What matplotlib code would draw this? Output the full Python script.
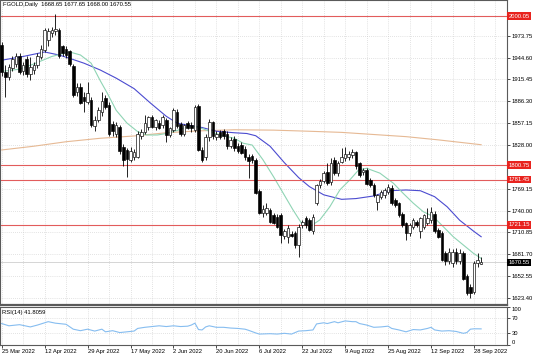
import numpy as np
import matplotlib
matplotlib.use('Agg')
import matplotlib.pyplot as plt
import matplotlib.transforms as mtransforms

plt.rcParams['font.family'] = ['Liberation Sans', 'DejaVu Sans']

# ==========================================
# Data (daily candles, 25 Mar - 30 Sep 2022)
# ==========================================
symbol = 'FGOLD,Daily'

opens = [1962, 1925, 1918, 1930, 1936, 1946, 1926, 1942, 1922, 1928,
         1935, 1945, 1955, 1968, 1978, 1980, 1982, 1960, 1956, 1953,
         1933, 1898, 1905, 1892, 1885, 1888, 1853, 1861, 1872, 1891,
         1881, 1856, 1843, 1852, 1825, 1821, 1808, 1812, 1812, 1840,
         1845, 1852, 1865, 1852, 1857, 1855, 1861, 1841, 1848, 1872,
         1856, 1843, 1857, 1855, 1848, 1880, 1821, 1812, 1838, 1858,
         1838, 1845, 1846, 1843, 1826, 1836, 1826, 1828, 1822, 1812,
         1813, 1807, 1766, 1737, 1737, 1741, 1734, 1732, 1734, 1706,
         1705, 1709, 1710, 1694, 1720, 1730, 1727, 1712, 1750, 1774,
         1780, 1792, 1778, 1808, 1790, 1805, 1810, 1812, 1814, 1818,
         1803, 1792, 1794, 1781, 1774, 1752, 1758, 1761, 1765, 1770,
         1754, 1750, 1736, 1723, 1710, 1718, 1725, 1712, 1718, 1723,
         1727, 1736, 1714, 1710, 1683, 1672, 1670, 1684, 1672, 1683,
         1652, 1638, 1631, 1670, 1668.65]
highs = [1966, 1934, 1936, 1946, 1950, 1950, 1938, 1946, 1945, 1938,
         1950, 1961, 1984, 1984, 1985, 2003, 1984, 1962, 1960, 1955,
         1936, 1910, 1910, 1898, 1912, 1892, 1866, 1878, 1899, 1894,
         1885, 1860, 1858, 1855, 1829, 1824, 1825, 1822, 1846, 1849,
         1868, 1866, 1868, 1862, 1861, 1868, 1864, 1852, 1877, 1876,
         1859, 1856, 1860, 1858, 1881, 1882, 1825, 1842, 1862, 1860,
         1846, 1848, 1849, 1846, 1838, 1840, 1830, 1832, 1826, 1816,
         1816, 1810, 1769, 1747, 1750, 1744, 1737, 1735, 1737, 1715,
         1721, 1712, 1713, 1722, 1728, 1733, 1730, 1735, 1776, 1782,
         1793, 1803, 1810, 1811, 1806, 1823, 1825, 1820, 1822, 1820,
         1805, 1797, 1797, 1784, 1777, 1762, 1768, 1770, 1776, 1774,
         1757, 1752, 1738, 1725, 1723, 1730, 1728, 1731, 1736, 1743,
         1745, 1739, 1717, 1712, 1686, 1690, 1688, 1690, 1688, 1686,
         1655, 1642, 1672, 1683, 1677.65]
lows = [1920, 1892, 1915, 1926, 1932, 1922, 1921, 1918, 1915, 1922,
        1930, 1942, 1952, 1960, 1972, 1975, 1944, 1947, 1944, 1933,
        1892, 1893, 1882, 1872, 1883, 1852, 1846, 1858, 1866, 1876,
        1840, 1840, 1838, 1816, 1800, 1785, 1805, 1808, 1810, 1835,
        1842, 1848, 1850, 1848, 1849, 1851, 1832, 1838, 1845, 1850,
        1840, 1839, 1849, 1845, 1845, 1819, 1805, 1808, 1833, 1836,
        1834, 1836, 1836, 1822, 1823, 1820, 1817, 1815, 1808, 1784,
        1803, 1762, 1735, 1731, 1734, 1723, 1722, 1716, 1696, 1702,
        1697, 1704, 1690, 1678, 1716, 1716, 1712, 1708, 1747, 1770,
        1777, 1774, 1774, 1787, 1786, 1803, 1806, 1808, 1810, 1796,
        1785, 1788, 1774, 1771, 1758, 1741, 1755, 1757, 1762, 1747,
        1745, 1732, 1718, 1701, 1706, 1715, 1718, 1703, 1715, 1720,
        1724, 1710, 1703, 1672, 1667, 1668, 1665, 1668, 1668, 1647,
        1627, 1623, 1628, 1664, 1668.00]
closes = [1925, 1918, 1932, 1942, 1946, 1925, 1934, 1922, 1932, 1935,
          1946, 1956, 1981, 1980, 1981, 1983, 1947, 1951, 1948, 1936,
          1895, 1905, 1884, 1886, 1897, 1855, 1861, 1875, 1886, 1879,
          1843, 1847, 1855, 1819, 1808, 1809, 1820, 1818, 1843, 1845,
          1857, 1865, 1852, 1861, 1851, 1865, 1841, 1850, 1874, 1853,
          1843, 1854, 1851, 1850, 1878, 1821, 1808, 1838, 1858, 1840,
          1843, 1838, 1840, 1826, 1834, 1823, 1819, 1817, 1811, 1806,
          1808, 1764, 1737, 1742, 1743, 1725, 1724, 1718, 1707, 1713,
          1716, 1706, 1694, 1718, 1725, 1721, 1714, 1731, 1774, 1779,
          1790, 1777, 1803, 1790, 1804, 1812, 1816, 1815, 1818, 1799,
          1788, 1794, 1776, 1774, 1761, 1761, 1765, 1767, 1772, 1750,
          1747, 1734, 1721, 1710, 1721, 1727, 1721, 1730, 1734, 1730,
          1738, 1712, 1705, 1674, 1672, 1685, 1685, 1672, 1683, 1649,
          1630, 1630, 1670, 1674, 1670.55]

# moving averages (bar index, value)
ma_fast_x = [0, 5, 9, 14, 19, 22, 25, 27.5, 29.5, 32, 35, 38, 40.5, 43.5, 46, 49,
             52, 54.5, 57, 61, 65, 67.5, 70, 73, 76, 78.7, 81.4, 83.8, 86.1, 88.9,
             91.7, 94.5, 97.3, 99.7, 102, 105.7, 109.5, 112.2, 115, 117.8, 120.6,
             123.4, 126.2, 129, 131.8, 134]
ma_fast_y = [1926, 1929, 1936, 1946, 1952, 1948, 1937, 1914, 1897, 1874, 1857, 1845.5,
             1841, 1841, 1843, 1847, 1852, 1852, 1848, 1841, 1836.6, 1830, 1827.6,
             1808, 1785, 1763, 1741, 1723, 1718.5, 1727.4, 1745, 1767.5, 1781, 1794,
             1796.5, 1790, 1776.4, 1763, 1750, 1738.5, 1732, 1718.5, 1705, 1694,
             1683, 1676]
ma_mid_x = [0, 6, 12, 16, 19, 23, 27.5, 32, 37, 41.5, 46, 49, 52, 56, 60, 65, 68.5,
            71, 75, 79, 83, 86, 90, 95, 99, 104, 108.5, 113, 117, 121, 124.5, 128,
            132, 134]
ma_mid_y = [1941, 1946, 1952, 1948, 1943.5, 1937, 1928, 1917, 1903, 1884, 1866,
            1857, 1854, 1851, 1846, 1844, 1843, 1840, 1826, 1804, 1784, 1772, 1761,
            1755, 1756, 1759.5, 1766.5, 1767.5, 1766.5, 1758.5, 1745, 1727, 1712,
            1705]
ma_slow_x = [0, 9, 18, 27.5, 37, 46, 55, 65, 76, 86, 95, 113, 122, 134]
ma_slow_y = [1821, 1826, 1832, 1836.6, 1839.7, 1844, 1846.5, 1848, 1847.5, 1846,
             1844.5, 1838.8, 1834.5, 1828]

# RSI(14) (bar index, value)
rsi_x = [0, 2, 5, 8, 10, 13, 15, 18, 20, 22, 24, 26, 28, 29, 31, 33, 35, 37, 38,
         40, 42, 44, 46, 48, 50, 52, 53, 54, 55, 56, 57, 58, 60, 62, 64, 66, 68,
         69, 71, 72, 75, 77, 79, 81, 83, 85, 87, 88, 90, 91, 93, 94, 96, 98, 99,
         100, 102, 104, 106, 108, 109, 111, 113, 115, 117, 119, 120, 121, 123,
         125, 127, 129, 130, 131, 132, 133, 134]
rsi_y = [56, 50, 53, 47, 52, 61, 57, 54, 41, 37, 41, 36, 41, 34, 37, 32, 34, 36,
         43, 46, 48, 50, 48, 50, 48, 49, 52, 57, 40, 39, 47, 50, 46, 46, 44, 43,
         41, 38, 31, 28, 29, 28, 30, 28, 36, 37, 39, 55, 58, 56, 61, 58, 63, 61,
         61, 56, 52, 46, 47, 49, 43, 39, 34, 40, 39, 43, 46, 39, 36, 37, 35, 30,
         32, 41, 42, 42, 41.8]
rsi_last = 41.8059

level_lines = [2000.05, 1800.75, 1781.45, 1721.15]
price_ticks = [1973.75, 1944.60, 1915.45, 1886.30, 1857.15, 1828.00, 1769.15,
               1740.00, 1710.85, 1681.70, 1652.55, 1623.40]
date_labels = ['25 Mar 2022', '12 Apr 2022', '29 Apr 2022', '17 May 2022',
               '2 Jun 2022', '20 Jun 2022', '6 Jul 2022', '22 Jul 2022',
               '9 Aug 2022', '25 Aug 2022', '12 Sep 2022', '28 Sep 2022']

# ==========================================
# Figure
# ==========================================
W, H = 536, 355
fig = plt.figure(figsize=(W / 100, H / 100), dpi=100)
ax = fig.add_axes([0, 1 - 305 / H, 507 / W, 305 / H])
ax_rsi = fig.add_axes([0, 1 - 344.6 / H, 507 / W, (344.6 - 307) / H], sharex=ax)

grid_kw = dict(color='#c8c8c8', lw=0.5, ls=(0, (1, 2)), zorder=0)
fs = 4.2

o, h, l, c = (np.array(v, dtype=float) for v in (opens, highs, lows, closes))
x = np.arange(len(c))
up = c >= o

for gx in range(0, 142, 6):
    ax.axvline(gx, **grid_kw)
    ax_rsi.axvline(gx, **grid_kw)
for py in price_ticks:
    ax.axhline(py, **grid_kw)

ax.plot(ma_slow_x, ma_slow_y, color='#e6b994', lw=0.8, zorder=1)
ax.plot(ma_mid_x, ma_mid_y, color='#4b4bd0', lw=0.8, zorder=1)
ax.plot(ma_fast_x, ma_fast_y, color='#8fd4b4', lw=0.8, zorder=1)

for lv in level_lines:
    ax.axhline(lv, color='#e25c5c', lw=0.8, zorder=1)
ax.axhline(c[-1], color='#cfcfcf', lw=0.6, zorder=1)

body_lo = np.minimum(o, c)
body_h = np.maximum(np.abs(c - o), 0.8)
ax.vlines(x, l, h, color='black', lw=0.6, zorder=2)
ax.bar(x[up], body_h[up], bottom=body_lo[up], width=0.72, color='white',
       edgecolor='black', lw=0.45, zorder=3)
ax.bar(x[~up], body_h[~up], bottom=body_lo[~up], width=0.72, color='black',
       edgecolor='black', lw=0.45, zorder=3)

ax.set_xlim(-1.7 / 3.578, (507 - 1.7) / 3.578)
ax.set_ylim(1613.7, 2021.5)
ax.yaxis.tick_right()
ax.set_yticks(price_ticks)
ax.set_yticklabels([f'{p:.2f}' for p in price_ticks])
ax.tick_params(axis='y', labelsize=fs, length=2, width=0.5, pad=1.5, colors='black')
ax.tick_params(axis='x', bottom=False, labelbottom=False)

trans = mtransforms.blended_transform_factory(ax.transAxes, ax.transData)
for lv in level_lines:
    ax.text(1.003, lv, f'{lv:.2f}', transform=trans, fontsize=fs, color='white',
            va='center', ha='left', clip_on=False,
            bbox=dict(boxstyle='square,pad=0.25', fc='#e8231e', ec='none'))
ax.text(1.003, c[-1], f'{c[-1]:.2f}', transform=trans, fontsize=fs, color='white',
        va='center', ha='left', clip_on=False,
        bbox=dict(boxstyle='square,pad=0.25', fc='black', ec='none'))

ax.text(0.005, 0.995, f'{symbol}  {o[-1]:.2f} {h[-1]:.2f} {l[-1]:.2f} {c[-1]:.2f}',
        transform=ax.transAxes, fontsize=fs, va='top', ha='left')

for s in ax.spines.values():
    s.set_color('#5a5a5a')
    s.set_linewidth(0.8)
ax.spines['bottom'].set_linewidth(1.6)

# RSI panel
for lv in (30, 70):
    ax_rsi.axhline(lv, **grid_kw)
ax_rsi.plot(rsi_x, rsi_y, color='#86bdf0', lw=0.8)
ax_rsi.set_ylim(0, 100)
ax_rsi.yaxis.tick_right()
ax_rsi.set_yticks([0, 30, 70, 100])
ax_rsi.set_yticklabels(['0', '30', '70', '100'])
ax_rsi.tick_params(axis='y', labelsize=fs, length=2, width=0.5, pad=1.5)
rl = ax_rsi.get_yticklabels()
rl[0].set_va('bottom')
rl[-1].set_va('top')
ax_rsi.set_xticks(range(0, 12 * len(date_labels), 12))
ax_rsi.set_xticklabels(date_labels, ha='left')
ax_rsi.tick_params(axis='x', labelsize=fs, length=2, width=0.5, pad=1)
ax_rsi.text(0.004, 0.93, f'RSI(14) {rsi_last:.4f}', transform=ax_rsi.transAxes,
            fontsize=fs, va='top', ha='left')
for s in ax_rsi.spines.values():
    s.set_color('#5a5a5a')
    s.set_linewidth(0.8)

fig.savefig('out.png', dpi=100)
